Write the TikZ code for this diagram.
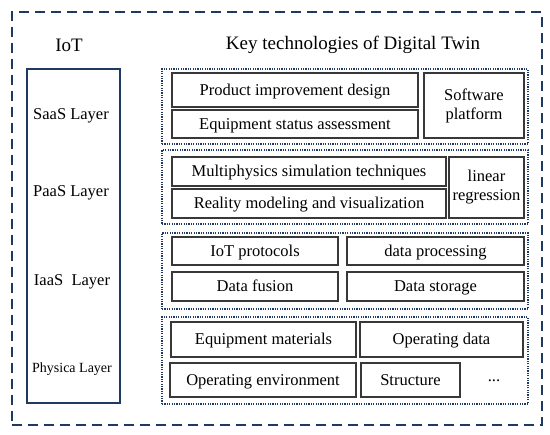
\documentclass[tikz,border=0pt]{standalone}
\usepackage{fontspec}
\setmainfont{Liberation Serif}
\usetikzlibrary{fit}
\definecolor{navy}{HTML}{1F3A60}
\definecolor{boxgray}{HTML}{383838}

\begin{document}
\begin{tikzpicture}[
  x=1pt,y=-1pt,
  frame/.style={draw=navy,line width=1.8pt,dash pattern=on 10pt off 6pt,inner sep=0pt},
  iotbox/.style={draw=navy,line width=1.4pt,inner sep=0pt},
  group/.style={draw=navy,line width=1.2pt,dash pattern=on 1.2pt off 1.2pt,inner sep=0pt},
  techbase/.style={draw=boxgray,line width=1.3pt,inner sep=0pt,align=center,
               font=\fontsize{16.5}{19}\selectfont},
  tech/.style={techbase,text height=13pt,text depth=2pt},
  layer/.style={font=\fontsize{16.5}{19}\selectfont},
  heading/.style={font=\fontsize{19}{22}\selectfont}
]
  \useasboundingbox (0,0) rectangle (550,435);
  \node[frame,fit={(12,12)(542,425)}] (outer) {};

  \node[heading] (iot) at (69,45) {IoT};
  \node[heading] (keytech) at (353,45) {Key technologies of Digital Twin};

  % IoT layers
  \node[iotbox,fit={(27,69)(120,403)}] (stack) {};
  \node[layer] (saas) at (71,116) {SaaS Layer};
  \node[layer] (paas) at (71,193) {PaaS Layer};
  \node[layer] (iaas) at (72,282) {IaaS\ \ Layer};
  \node[font=\fontsize{14}{17}\selectfont] (physica) at (72,369) {Physica Layer};

  % SaaS technologies
  \node[group,fit={(162,69)(528,144)}] (saasgrp) {};
  \node[tech,minimum width=246pt,minimum height=34pt] (design) at (295,90) {Product improvement design};
  \node[tech,minimum width=246pt,minimum height=28pt] (status) at (295,124) {Equipment status assessment};
  \node[techbase,minimum width=100pt,minimum height=65pt] (software) at (474,105.5) {Software\\platform};

  % PaaS technologies
  \node[group,fit={(162,150)(528,224)}] (paasgrp) {};
  \node[tech,minimum width=274pt,minimum height=29pt] (multi) at (309,171.5) {Multiphysics simulation techniques};
  \node[tech,minimum width=274pt,minimum height=29pt] (reality) at (309,203.5) {Reality modeling and visualization};
  \node[techbase,minimum width=75pt,minimum height=61pt] (linreg) at (486.5,187.5) {linear\\regression};

  % IaaS technologies
  \node[group,fit={(162,233)(528,309)}] (iaasgrp) {};
  \node[tech,minimum width=166pt,minimum height=28pt] (protocols) at (255,251) {IoT protocols};
  \node[tech,minimum width=177pt,minimum height=28pt] (processing) at (435.5,251) {data processing};
  \node[tech,minimum width=166pt,minimum height=29pt] (fusion) at (255,286.5) {Data fusion};
  \node[tech,minimum width=177pt,minimum height=29pt] (storage) at (435.5,286.5) {Data storage};

  % physical layer
  \node[group,fit={(162,317)(528,404)}] (physgrp) {};
  \node[tech,minimum width=185pt,minimum height=35pt] (materials) at (263.5,339.5) {Equipment materials};
  \node[tech,minimum width=163pt,minimum height=35pt] (opdata) at (441.5,339.5) {Operating data};
  \node[tech,minimum width=186pt,minimum height=34pt] (environment) at (263,380) {Operating environment};
  \node[tech,minimum width=99pt,minimum height=34pt] (structure) at (410.5,380) {Structure};
  \node[layer] (more) at (494,381) {...};
\end{tikzpicture}
\end{document}
